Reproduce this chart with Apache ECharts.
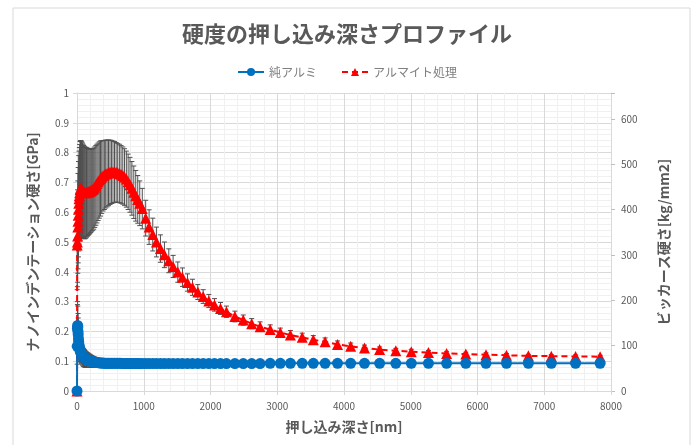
<!DOCTYPE html>
<html>
<head>
<meta charset="utf-8">
<script src="https://cdn.jsdelivr.net/npm/echarts@6/dist/echarts.min.js"></script>
<style>
  html, body { margin: 0; padding: 0; background: #fff; }
  #chart { width: 694px; height: 445px; }
</style>
</head>
<body>
<div id="chart"></div>
<script>
// 押し込み深さ [nm]（両系列共通）
const depth = [
  0, 3, 6, 9, 12, 15, 18, 22, 26, 30,
  35, 40, 46, 52, 59, 66, 74, 82, 91, 100,
  110, 120, 131, 142, 154, 166, 179, 192, 206, 220,
  235, 250, 266, 282, 299, 316, 334, 352, 371, 390,
  410, 430, 451, 472, 494, 516, 539, 562, 586, 610,
  635, 660, 686, 712, 739, 766, 794, 822, 851, 880,
  910, 940, 978, 1029, 1080, 1135, 1190, 1250, 1310, 1375,
  1440, 1510, 1580, 1655, 1730, 1810, 1890, 1975, 2060, 2150,
  2239, 2365, 2491, 2617, 2743, 2894, 3046, 3197, 3374, 3540,
  3717, 3903, 4100, 4307, 4534, 4776, 5008, 5265, 5537, 5825,
  6127, 6434, 6762, 7106, 7469, 7837
];

// 純アルミ 硬さ [GPa]
const pureAl = [
  0, 0.15, 0.21, 0.22, 0.215, 0.2, 0.19, 0.175, 0.165, 0.155,
  0.148, 0.142, 0.137, 0.132, 0.128, 0.124, 0.12, 0.117, 0.114, 0.112,
  0.11, 0.108, 0.106, 0.105, 0.104, 0.103, 0.102, 0.101, 0.1, 0.099,
  0.098, 0.097, 0.097, 0.096, 0.096, 0.095, 0.095, 0.094, 0.094, 0.094,
  0.093, 0.093, 0.093, 0.093, 0.093, 0.093, 0.093, 0.093, 0.093, 0.093,
  0.093, 0.093, 0.092, 0.092, 0.092, 0.092, 0.092, 0.092, 0.092, 0.092,
  0.092, 0.092, 0.092, 0.092, 0.092, 0.092, 0.092, 0.092, 0.092, 0.092,
  0.092, 0.092, 0.092, 0.092, 0.092, 0.092, 0.092, 0.092, 0.092, 0.092,
  0.092, 0.092, 0.092, 0.092, 0.092, 0.093, 0.093, 0.093, 0.093, 0.093,
  0.093, 0.093, 0.093, 0.093, 0.093, 0.093, 0.093, 0.093, 0.093, 0.093,
  0.093, 0.093, 0.093, 0.093, 0.093, 0.093
];
const pureAlErr = [
  0, 0.06, 0.08, 0.08, 0.07, 0.06, 0.055, 0.05, 0.045, 0.04,
  0.038, 0.036, 0.034, 0.033, 0.032, 0.031, 0.03, 0.03, 0.03, 0.03,
  0.029, 0.028, 0.027, 0.026, 0.025, 0.024, 0.023, 0.022, 0.021, 0.02,
  0.019, 0.018, 0.017, 0.016, 0.015, 0.014, 0.013, 0.012, 0.011, 0.01,
  0.009, 0.008, 0.008, 0.007, 0.007, 0.006, 0.006, 0.005, 0.005, 0.005,
  0.004, 0.004, 0.004, 0.004, 0.004, 0.004, 0.004, 0.004, 0.004, 0.004,
  0.003, 0.003, 0.003, 0.003, 0.003, 0.003, 0.003, 0.003, 0.003, 0.003,
  0.003, 0.003, 0.003, 0.003, 0.003, 0.003, 0.003, 0.003, 0.003, 0.003,
  0.003, 0.003, 0.003, 0.003, 0.003, 0.003, 0.003, 0.003, 0.003, 0.003,
  0.003, 0.003, 0.003, 0.003, 0.003, 0.003, 0.003, 0.003, 0.003, 0.003,
  0.003, 0.003, 0.003, 0.003, 0.003, 0.003
];

// アルマイト処理 硬さ [GPa]
const anodized = [
  0, 0.49, 0.5, 0.52, 0.55, 0.57, 0.59, 0.61, 0.63, 0.645,
  0.655, 0.665, 0.675, 0.68, 0.68, 0.678, 0.675, 0.672, 0.67, 0.668,
  0.666, 0.665, 0.665, 0.666, 0.667, 0.668, 0.669, 0.67, 0.672, 0.674,
  0.676, 0.679, 0.684, 0.69, 0.696, 0.702, 0.708, 0.713, 0.718, 0.722,
  0.725, 0.728, 0.73, 0.732, 0.734, 0.735, 0.735, 0.735, 0.734, 0.732,
  0.73, 0.727, 0.723, 0.718, 0.711, 0.702, 0.692, 0.68, 0.667, 0.655,
  0.643, 0.63, 0.612, 0.58, 0.55, 0.525, 0.5, 0.478, 0.457, 0.437,
  0.418, 0.399, 0.382, 0.364, 0.348, 0.332, 0.317, 0.302, 0.289, 0.277,
  0.266, 0.25, 0.238, 0.226, 0.216, 0.206, 0.196, 0.188, 0.18, 0.172,
  0.165, 0.156, 0.15, 0.144, 0.139, 0.135, 0.132, 0.129, 0.126, 0.124,
  0.122, 0.12, 0.118, 0.117, 0.116, 0.115
];
const anodizedErr = [
  0, 0.15, 0.15, 0.155, 0.155, 0.16, 0.16, 0.16, 0.16, 0.16,
  0.162, 0.162, 0.162, 0.16, 0.16, 0.16, 0.16, 0.16, 0.158, 0.156,
  0.155, 0.154, 0.152, 0.15, 0.148, 0.146, 0.144, 0.142, 0.14, 0.138,
  0.137, 0.136, 0.135, 0.134, 0.132, 0.13, 0.128, 0.126, 0.122, 0.118,
  0.116, 0.114, 0.112, 0.11, 0.108, 0.106, 0.104, 0.102, 0.1, 0.099,
  0.098, 0.097, 0.096, 0.095, 0.094, 0.093, 0.092, 0.09, 0.088, 0.085,
  0.08, 0.075, 0.068, 0.06, 0.058, 0.055, 0.05, 0.046, 0.043, 0.04,
  0.037, 0.034, 0.031, 0.029, 0.027, 0.025, 0.023, 0.022, 0.021, 0.02,
  0.019, 0.018, 0.017, 0.017, 0.016, 0.016, 0.015, 0.015, 0.014, 0.014,
  0.013, 0.012, 0.011, 0.01, 0.009, 0.008, 0.008, 0.007, 0.007, 0.006,
  0.006, 0.006, 0.005, 0.005, 0.005, 0.005
];

const textColor = "#595959";
const gridColor = "#d9d9d9";
const minorColor = "#f0f0f0";
const font = "'Noto Sans CJK JP', 'Noto Sans', sans-serif";

const pairs = (ys) => depth.map((x, i) => [x, ys[i]]);
const bars = (ys, errs) => depth.map((x, i) => [x, ys[i] - errs[i], ys[i] + errs[i]]);

// エラーバー（縦線＋キャップ）
function errorBar(params, api) {
  const x = api.value(0);
  const lo = api.coord([x, api.value(1)]);
  const hi = api.coord([x, api.value(2)]);
  const cap = 2.5;
  const style = { stroke: "#505050", lineWidth: 1, fill: null };
  return {
    type: "group",
    children: [
      { type: "line", shape: { x1: lo[0], y1: lo[1], x2: hi[0], y2: hi[1] }, style },
      { type: "line", shape: { x1: hi[0] - cap, y1: hi[1], x2: hi[0] + cap, y2: hi[1] }, style },
      { type: "line", shape: { x1: lo[0] - cap, y1: lo[1], x2: lo[0] + cap, y2: lo[1] }, style },
    ],
  };
}

const chart = echarts.init(document.getElementById("chart"));

const option = {
  backgroundColor: "#fff",
  animation: false,
  textStyle: { fontFamily: font },
  graphic: [
    {
      type: "rect",
      shape: { x: 13, y: 8, width: 677, height: 445 },
      style: { fill: null, stroke: gridColor, lineWidth: 1 },
      silent: true,
    },
  ],
  title: {
    text: "硬度の押し込み深さプロファイル",
    left: "center",
    top: 18,
    textStyle: { fontFamily: font, fontSize: 22, fontWeight: "bold", color: textColor },
  },
  legend: {
    top: 61,
    left: "center",
    itemWidth: 26,
    itemHeight: 10,
    itemGap: 24,
    textStyle: { fontFamily: font, fontSize: 12, color: "#7f7f7f" },
    data: ["純アルミ", "アルマイト処理"],
  },
  grid: { left: 77, right: 83, top: 93, bottom: 54 },
  xAxis: {
    type: "value",
    min: 0,
    max: 8000,
    interval: 1000,
    name: "押し込み深さ[nm]",
    nameLocation: "middle",
    nameGap: 29,
    nameTextStyle: { fontFamily: font, fontSize: 14, fontWeight: "bold", color: textColor },
    axisLine: { show: true, onZero: false, lineStyle: { color: gridColor } },
    axisTick: { show: true, length: 4, lineStyle: { color: gridColor } },
    axisLabel: { fontSize: 10, color: textColor, margin: 10, formatter: (v) => String(v) },
    splitLine: { show: true, lineStyle: { color: gridColor } },
    minorTick: { show: false, splitNumber: 5 },
    minorSplitLine: { show: true, lineStyle: { color: minorColor } },
  },
  yAxis: [
    {
      type: "value",
      min: 0,
      max: 1,
      interval: 0.1,
      name: "ナノインデンテーション硬さ[GPa]",
      nameLocation: "middle",
      nameGap: 37,
      nameTextStyle: { fontFamily: font, fontSize: 14, fontWeight: "bold", color: textColor },
      axisLine: { show: true, lineStyle: { color: gridColor } },
      axisTick: { show: true, length: 4, lineStyle: { color: gridColor } },
      axisLabel: { fontSize: 10, color: textColor, margin: 8 },
      splitLine: { show: true, lineStyle: { color: gridColor } },
      minorTick: { show: false, splitNumber: 5 },
      minorSplitLine: { show: true, lineStyle: { color: minorColor } },
    },
    {
      type: "value",
      min: 0,
      max: 657,
      interval: 100,
      position: "right",
      name: "ビッカース硬さ[kg/mm2]",
      nameLocation: "middle",
      nameGap: 46,
      nameRotate: 90,
      nameTextStyle: { fontFamily: font, fontSize: 14, fontWeight: "bold", color: textColor },
      axisLine: { show: true, lineStyle: { color: gridColor } },
      axisTick: { show: true, length: 4, lineStyle: { color: "#bfbfbf" } },
      axisLabel: {
        fontSize: 10,
        color: textColor,
        margin: 10,
        formatter: (v) => (v % 100 === 0 ? String(v) : ""),
      },
      splitLine: { show: false },
    },
  ],
  series: [
    {
      name: "純アルミ_err",
      type: "custom",
      renderItem: errorBar,
      data: bars(pureAl, pureAlErr),
      encode: { x: 0, y: [1, 2] },
      z: 1,
      silent: true,
    },
    {
      name: "アルマイト処理_err",
      type: "custom",
      renderItem: errorBar,
      data: bars(anodized, anodizedErr),
      encode: { x: 0, y: [1, 2] },
      z: 1,
      silent: true,
    },
    {
      name: "純アルミ",
      type: "line",
      data: pairs(pureAl),
      symbol: "circle",
      symbolSize: 11,
      lineStyle: { color: "#0070c0", width: 2 },
      itemStyle: { color: "#0070c0" },
      z: 3,
    },
    {
      name: "アルマイト処理",
      type: "line",
      data: pairs(anodized),
      symbol: "triangle",
      symbolSize: 11,
      lineStyle: { color: "#ff0000", width: 2, type: [6, 4] },
      itemStyle: { color: "#ff0000" },
      z: 2,
    },
  ],
};

chart.setOption(option);
window.addEventListener("resize", () => {
  chart.resize();
});
</script>
</body>
</html>
